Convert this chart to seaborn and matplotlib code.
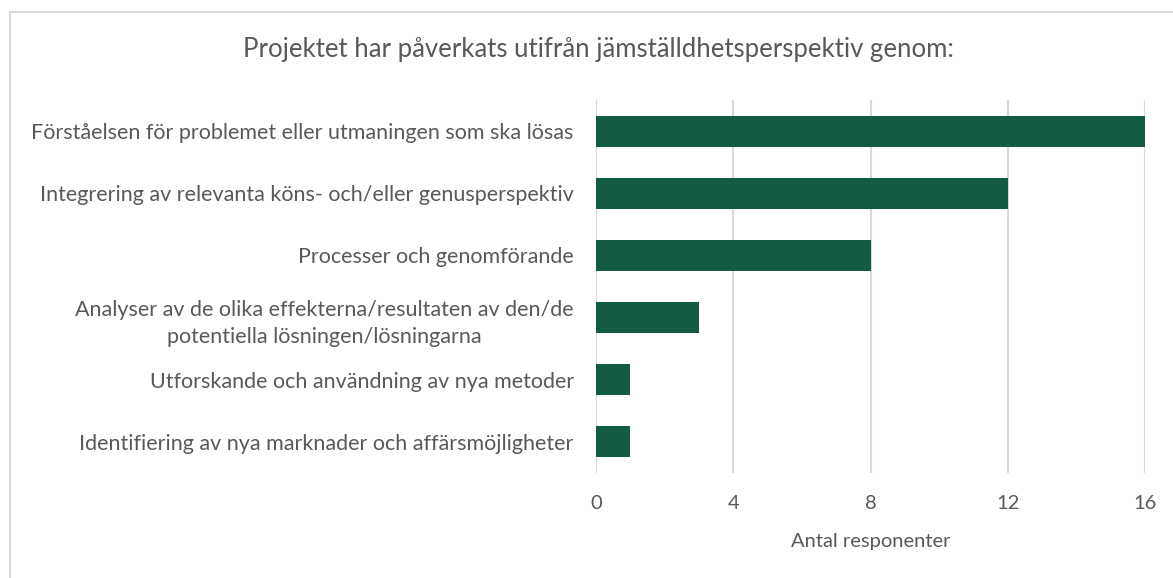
import matplotlib
matplotlib.use("Agg")
import matplotlib.pyplot as plt
import seaborn as sns
import pandas as pd
from matplotlib.lines import Line2D

categories = [
    "Förståelsen för problemet eller utmaningen som ska lösas",
    "Integrering av relevanta köns- och/eller genusperspektiv",
    "Processer och genomförande",
    "Analyser av de olika effekterna/resultaten av den/de\npotentiella lösningen/lösningarna",
    "Utforskande och användning av nya metoder",
    "Identifiering av nya marknader och affärsmöjligheter",
]
values = [16, 12, 8, 3, 1, 1]
xticks = [0, 4, 8, 12, 16]
title = "Projektet har påverkats utifrån jämställdhetsperspektiv genom:"
xlabel = "Antal responenter"

sns.set_theme(style="white")
plt.rcParams['font.family'] = ['Lato', 'DejaVu Sans']

text_color = "#595959"
bar_color = "#135B42"
grid_color = "#D9D9D9"

df = pd.DataFrame({"cat": categories, "val": values})

fig = plt.figure(figsize=(11.73, 5.78), dpi=100)
ax = fig.add_axes([596/1173, 1 - 473/578, (1145 - 596)/1173, (473 - 100)/578])

sns.barplot(data=df, x="val", y="cat", color=bar_color, width=0.5, ax=ax,
            saturation=1, edgecolor="none")

ax.set_xlim(0, 16)
ax.set_ylim(5.5, -0.5)
ax.set_xticks(xticks)
ax.set_xticklabels([str(t) for t in xticks])
for x in xticks:
    ax.axvline(x, color=grid_color, lw=1.5, zorder=0)
ax.set_axisbelow(True)
for s in ax.spines.values():
    s.set_visible(False)
ax.tick_params(axis='both', length=0, colors=text_color)
ax.tick_params(axis='x', labelsize=14.5, pad=16)
ax.tick_params(axis='y', labelsize=15.5, pad=16)
for lbl in ax.get_yticklabels():
    lbl.set_multialignment('center')
    lbl.set_linespacing(1.45)

ax.set_ylabel("")
ax.set_xlabel(xlabel, fontsize=14.5, color=text_color, labelpad=15)

fig.text(598/1173, 1 - 50/578, title, ha='center', va='center', fontsize=18.5,
         color=text_color)

# outer border (top & left visible)
fig.add_artist(Line2D([10/1173, 10/1173], [0, 1 - 12/578], transform=fig.transFigure,
                      color=grid_color, lw=1.5))
fig.add_artist(Line2D([10/1173, 1], [1 - 12/578, 1 - 12/578], transform=fig.transFigure,
                      color=grid_color, lw=1.5))

fig.savefig("out.png", dpi=100, facecolor="white")
